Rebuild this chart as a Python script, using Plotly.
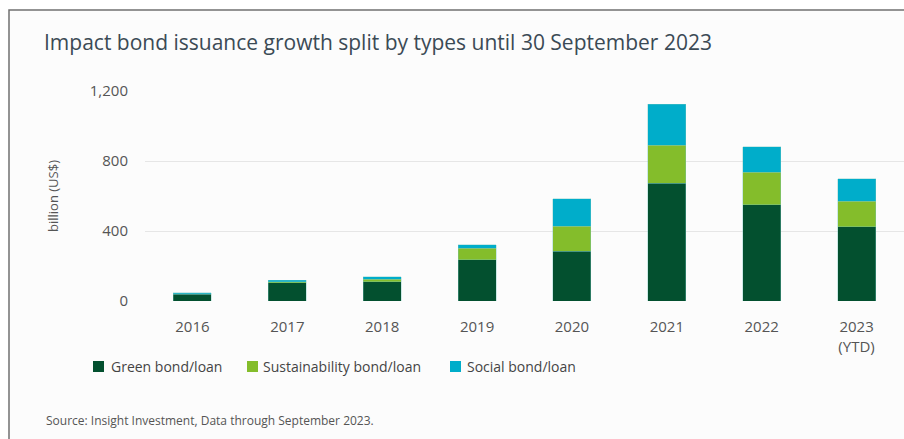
import plotly.graph_objects as go

categories = ["2016", "2017", "2018", "2019", "2020", "2021", "2022", "2023<br>(YTD)"]
green = [40, 105, 110, 235, 283, 674, 550, 424]
sustainability = [2, 5, 15, 67, 143, 216, 185, 145]
social = [6, 8, 14, 19, 157, 233, 146, 130]
series_names = ["Green bond/loan", "Sustainability bond/loan", "Social bond/loan"]
colors = ["#03502f", "#84bd2b", "#00adca"]
y_ticks = [0, 400, 800, 1200]
y_ticktext = ["0", "400", "800", "1,200"]

W, H = 904, 439
FONT = "Open Sans"

fig = go.Figure()
for name, vals, col in zip(series_names, [green, sustainability, social], colors):
    fig.add_trace(go.Bar(
        x=categories, y=vals, name=name, marker_color=col,
        marker_line=dict(color="rgba(120,200,190,0.6)", width=0.6),
    ))

def px(x):
    return x / W

def py(y):
    return 1 - y / H

shapes = [
    dict(type="rect", xref="paper", yref="paper", x0=px(9), x1=1.05, y0=-0.05, y1=py(10),
         fillcolor="#fcfcfc", line=dict(color="#707070", width=1.5), layer="below"),
]
annotations = [
    dict(text="Impact bond issuance growth split by types until 30 September 2023",
         xref="paper", yref="paper", x=px(42), y=py(42), xanchor="left", yanchor="middle",
         showarrow=False, font=dict(family=FONT, size=21, color="#3b4a55")),
    dict(text="Source: Insight Investment, Data through September 2023.",
         xref="paper", yref="paper", x=px(44), y=py(420), xanchor="left", yanchor="middle",
         showarrow=False, font=dict(family=FONT, size=12, color="#555555")),
]
# manual legend
legend_sq = [93, 247, 450]
legend_txt = [109, 261, 465]
for name, col, sx, tx in zip(series_names, colors, legend_sq, legend_txt):
    shapes.append(dict(type="rect", xref="paper", yref="paper", x0=px(sx), x1=px(sx + 11),
                       y0=py(372), y1=py(361), fillcolor=col, line=dict(width=0)))
    annotations.append(dict(text=name, xref="paper", yref="paper", x=px(tx), y=py(366),
                            xanchor="left", yanchor="middle", showarrow=False,
                            font=dict(family=FONT, size=14, color="#444444")))

fig.update_layout(
    template="none",
    width=W, height=H, autosize=False,
    margin=dict(l=0, r=0, t=0, b=0, pad=0),
    paper_bgcolor="white", plot_bgcolor="rgba(0,0,0,0)",
    barmode="stack", bargap=0.6,
    showlegend=False,
    shapes=shapes, annotations=annotations,
    font=dict(family=FONT, color="#555555"),
    xaxis=dict(type="category", domain=[px(145), 1], range=[-0.5, 7.5],
               showgrid=False, zeroline=False, showline=False,
               automargin=False,
               tickfont=dict(family=FONT, size=15, color="#555555"),
               ticks="outside", ticklen=12, tickcolor="rgba(0,0,0,0)"),
    yaxis=dict(domain=[py(301), py(91)], range=[0, 1200],
               tickvals=y_ticks, ticktext=y_ticktext,
               automargin=False,
               showgrid=True, gridcolor="#e6e6e6", gridwidth=1, zeroline=False, showline=False,
               tickfont=dict(family=FONT, size=15, color="#555555"),
               ticks="outside", ticklen=13, tickcolor="rgba(0,0,0,0)",
               title=dict(text="billion (US$)", font=dict(family=FONT, size=13, color="#555555"),
                          standoff=28)),
)
fig.write_html("out.html")
